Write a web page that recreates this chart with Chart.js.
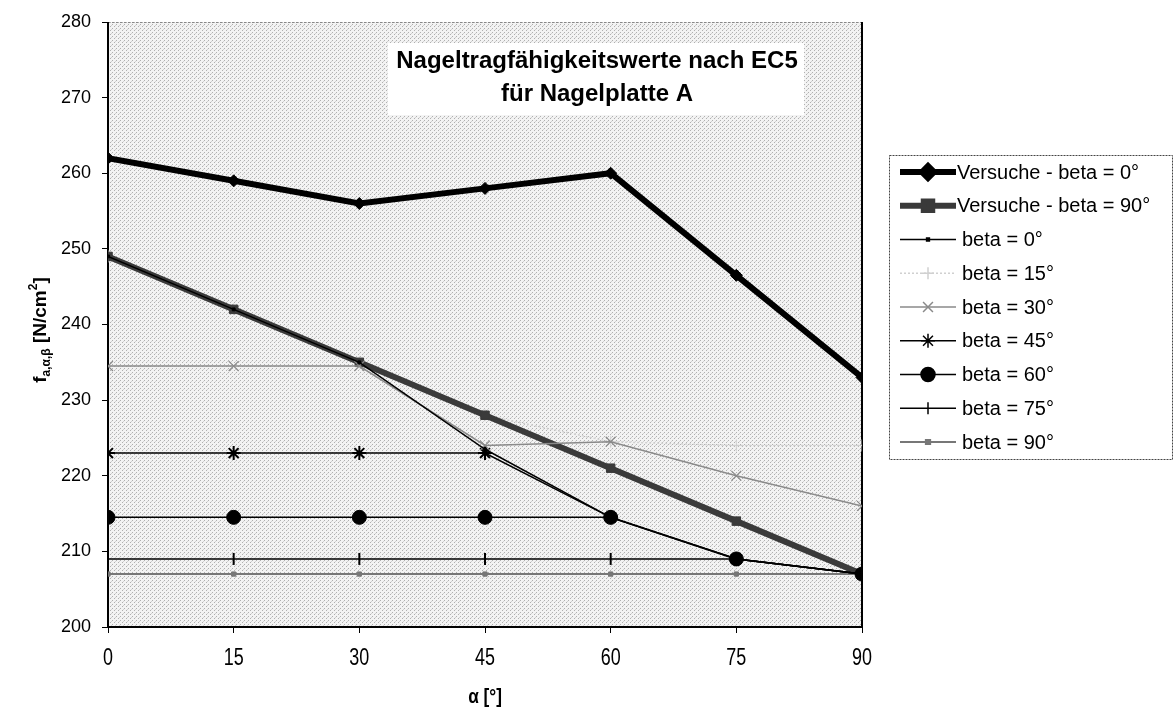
<!DOCTYPE html>
<html>
<head>
<meta charset="utf-8">
<script src="https://cdn.jsdelivr.net/npm/chart.js@4/dist/chart.umd.min.js"></script>
<style>
html,body{margin:0;padding:0;background:#fff;}
#wrap{position:relative;width:1174px;height:713px;}
canvas{display:block;}
</style>
</head>
<body>
<div id="wrap"><canvas id="c" width="1174" height="713"></canvas></div>
<script>
// ---- data ----
const alphaDeg = [0, 15, 30, 45, 60, 75, 90];
const yTickValues = [200, 210, 220, 230, 240, 250, 260, 270, 280];
const versuche0 = [262, 259, 256, 258, 260, 246.5, 233];
const versuche90 = [249, 242, 235, 228, 221, 214, 207];
const beta0 = [249, 242, 235, 223.5, 214.5, 209, 207];
const beta15 = [249, 242, 235, 228, 224.5, 224, 224];
const beta30 = [234.5, 234.5, 234.5, 224, 224.5, 220, 216];
const beta45 = [223, 223, 223, 223, 214.5, 209, 207];
const beta60 = [214.5, 214.5, 214.5, 214.5, 214.5, 209, 207];
const beta75 = [209, 209, 209, 209, 209, 209, 207];
const beta90 = [207, 207, 207, 207, 207, 207, 207];
const seriesLabels = ['Versuche - beta = 0°', 'Versuche - beta = 90°', 'beta = 0°', 'beta = 15°', 'beta = 30°', 'beta = 45°', 'beta = 60°', 'beta = 75°', 'beta = 90°'];
const titleLines = ['Nageltragfähigkeitswerte nach EC5', 'für Nagelplatte A'];
const xTitle = 'α [°]';

const toXY = arr => arr.map((v, i) => ({x: alphaDeg[i], y: v}));

const FONT = "'Liberation Sans', Arial, sans-serif";

// background stipple pattern
function makePattern(ctx) {
  const c = document.createElement('canvas');
  c.width = 4; c.height = 4;
  const g = c.getContext('2d');
  g.fillStyle = '#f3f3f3';
  g.fillRect(0, 0, 4, 4);
  g.fillStyle = '#b0b0b0';
  g.fillRect(0, 0, 1, 1);
  g.fillRect(2, 2, 1, 1);
  g.fillStyle = '#d2d2d2';
  g.fillRect(3, 1, 1, 1);
  return ctx.createPattern(c, 'repeat');
}

const datasets = [
  {label: seriesLabels[0], data: toXY(versuche0), borderColor: '#000', backgroundColor: '#000', borderWidth: 6, pointStyle: 'rectRot', pointRadius: 6, pointBorderWidth: 1, order: 2},
  {label: seriesLabels[1], data: toXY(versuche90), borderColor: '#3a3a3a', backgroundColor: '#3a3a3a', borderWidth: 6, pointStyle: 'rect', pointRadius: 6, pointBorderWidth: 1, order: 3},
  {label: seriesLabels[2], data: toXY(beta0), borderColor: '#000', backgroundColor: '#000', borderWidth: 1.5, pointStyle: 'rect', pointRadius: 2, pointBorderWidth: 1, order: 1},
  {label: seriesLabels[3], data: toXY(beta15), borderColor: '#d0d0d0', backgroundColor: '#d0d0d0', borderWidth: 1.5, borderDash: [2, 2], pointStyle: 'cross', pointRadius: 6, pointBorderWidth: 1, order: 4},
  {label: seriesLabels[4], data: toXY(beta30), borderColor: '#8a8a8a', backgroundColor: '#8a8a8a', borderWidth: 1.5, pointStyle: 'crossRot', pointRadius: 7, pointBorderWidth: 1.2, order: 1},
  {label: seriesLabels[5], data: toXY(beta45), borderColor: '#000', backgroundColor: '#000', borderWidth: 1.5, pointStyle: 'star', pointRadius: 7, pointBorderWidth: 2, order: 1},
  {label: seriesLabels[6], data: toXY(beta60), borderColor: '#000', backgroundColor: '#000', borderWidth: 1.5, pointStyle: 'circle', pointRadius: 7, pointBorderWidth: 1, order: 1},
  {label: seriesLabels[7], data: toXY(beta75), borderColor: '#000', backgroundColor: '#000', borderWidth: 1.5, pointStyle: 'line', pointRotation: 90, pointRadius: 6, pointBorderWidth: 2, order: 1},
  {label: seriesLabels[8], data: toXY(beta90), borderColor: '#777', backgroundColor: '#777', borderWidth: 2, pointStyle: 'rect', pointRadius: 3, pointBorderWidth: 1, order: 1}
];
datasets.forEach(d => { d.tension = 0; d.fill = false; d.pointBackgroundColor = d.backgroundColor; d.pointBorderColor = d.borderColor; });

const framePlugin = {
  id: 'frame',
  beforeDatasetsDraw(chart) {
    const {ctx, chartArea: a} = chart;
    ctx.save();
    ctx.fillStyle = makePattern(ctx);
    ctx.fillRect(a.left, a.top, a.right - a.left, a.bottom - a.top);
    ctx.strokeStyle = '#888';
    ctx.lineWidth = 1;
    ctx.setLineDash([2, 2]);
    ctx.beginPath(); ctx.moveTo(a.left, a.top + 0.5); ctx.lineTo(a.right, a.top + 0.5); ctx.stroke();
    ctx.setLineDash([]);
    ctx.strokeStyle = '#000';
    ctx.lineWidth = 2;
    ctx.beginPath();
    ctx.moveTo(a.left, a.top); ctx.lineTo(a.left, a.bottom); ctx.lineTo(a.right, a.bottom); ctx.lineTo(a.right, a.top);
    ctx.stroke();
    // x tick labels (condensed look)
    const xs = chart.scales.x;
    ctx.fillStyle = '#000';
    ctx.textAlign = 'center';
    ctx.textBaseline = 'middle';
    xs.ticks.forEach(t => {
      const px = xs.getPixelForValue(t.value);
      ctx.save();
      ctx.translate(px, 659);
      ctx.scale(0.78, 1);
      ctx.font = '23px ' + FONT;
      ctx.fillText(String(t.value), 0, 0);
      ctx.restore();
    });
    // x title
    ctx.save();
    ctx.translate((a.left + a.right) / 2, 697);
    ctx.scale(0.82, 1);
    ctx.font = 'bold 21px ' + FONT;
    ctx.fillText(xTitle, 0, 0);
    ctx.restore();
    // title box
    ctx.fillStyle = '#fff';
    ctx.fillRect(388, 43, 416, 72);
    ctx.fillStyle = '#000';
    ctx.font = 'bold 24px ' + FONT;
    ctx.textAlign = 'center';
    ctx.textBaseline = 'middle';
    ctx.fillText(titleLines[0], 597, 61);
    ctx.fillText(titleLines[1], 597, 94);
    ctx.restore();
  },
  afterDraw(chart) {
    const {ctx} = chart;
    ctx.save();
    // legend
    const lx = 889, ly = 155, lw = 283, lh = 304;
    ctx.fillStyle = '#fff';
    ctx.fillRect(lx, ly, lw, lh);
    ctx.strokeStyle = '#444';
    ctx.lineWidth = 1;
    ctx.setLineDash([2, 1]);
    ctx.strokeRect(lx + 0.5, ly + 0.5, lw, lh);
    ctx.setLineDash([]);
    ctx.font = '20px ' + FONT;
    ctx.textBaseline = 'middle';
    ctx.textAlign = 'left';
    chart.data.datasets.forEach((d, i) => {
      const y = 172 + i * 33.75;
      const x0 = 900, x1 = 956;
      ctx.strokeStyle = d.borderColor;
      ctx.lineWidth = d.borderWidth;
      ctx.setLineDash(d.borderDash || []);
      ctx.beginPath(); ctx.moveTo(x0, y); ctx.lineTo(x1, y); ctx.stroke();
      ctx.setLineDash([]);
      ctx.fillStyle = d.backgroundColor;
      ctx.strokeStyle = d.borderColor;
      Chart.helpers.drawPoint(ctx, {pointStyle: d.pointStyle, radius: d.pointRadius, rotation: d.pointRotation || 0, borderWidth: d.pointBorderWidth}, (x0 + x1) / 2, y);
      ctx.fillStyle = '#000';
      ctx.fillText(d.label, i < 2 ? 957 : 962, y + 1);
    });
    // y axis title (rotated)
    ctx.translate(40, 330);
    ctx.rotate(-Math.PI / 2);
    ctx.fillStyle = '#000';
    ctx.textBaseline = 'alphabetic';
    const parts = [
      {t: 'f', f: 'bold 19px ' + FONT, dy: 0},
      {t: 'a,α,β', f: 'bold 12px ' + FONT, dy: 4},
      {t: ' [N/cm', f: 'bold 19px ' + FONT, dy: 0},
      {t: '2', f: 'bold 12px ' + FONT, dy: -9},
      {t: ']', f: 'bold 19px ' + FONT, dy: 0}
    ];
    let total = 0;
    parts.forEach(p => { ctx.font = p.f; p.w = ctx.measureText(p.t).width; total += p.w; });
    let px = -total / 2;
    parts.forEach(p => { ctx.font = p.f; ctx.fillText(p.t, px, 6 + p.dy); px += p.w; });
    ctx.restore();
  }
};

new Chart(document.getElementById('c'), {
  type: 'line',
  data: {datasets},
  options: {
    responsive: false,
    animation: false,
    devicePixelRatio: 1,
    layout: {padding: {left: 0, right: 312, top: 22, bottom: 0}},
    plugins: {legend: {display: false}, tooltip: {enabled: false}, title: {display: false}},
    scales: {
      x: {
        type: 'linear', min: 0, max: 90,
        afterBuildTicks: s => { s.ticks = alphaDeg.map(v => ({value: v})); },
        grid: {display: true, drawOnChartArea: false, drawTicks: true, tickLength: 6, color: '#000', lineWidth: 1},
        border: {display: false},
        ticks: {display: false},
        afterFit: s => { s.height = 86; }
      },
      y: {
        type: 'linear', min: 200, max: 280,
        afterBuildTicks: s => { s.ticks = yTickValues.map(v => ({value: v})); },
        grid: {display: true, drawOnChartArea: false, drawTicks: true, tickLength: 6, color: '#000', lineWidth: 1},
        border: {display: false},
        ticks: {color: '#000', font: {family: FONT, size: 18}, padding: 11},
        afterFit: s => { s.width = 108; }
      }
    }
  },
  plugins: [framePlugin]
});
</script>
</body>
</html>
